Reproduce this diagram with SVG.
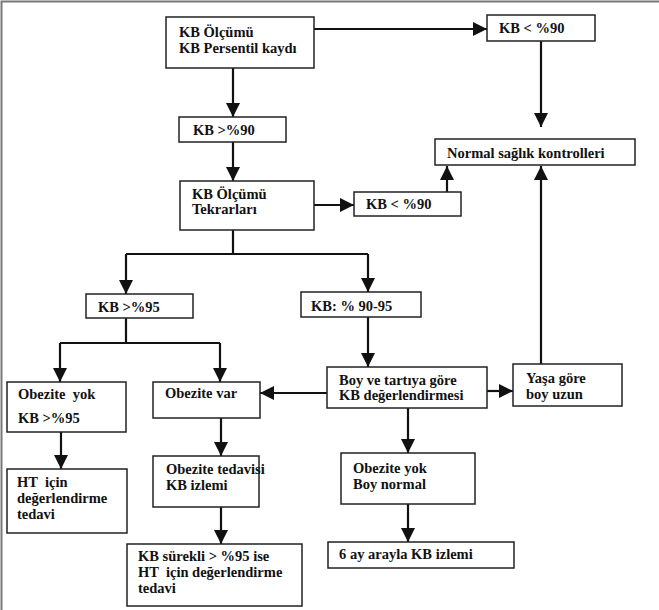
<svg xmlns="http://www.w3.org/2000/svg" width="659" height="610" viewBox="0 0 659 610">
<defs>
<marker id="ah" markerUnits="userSpaceOnUse" markerWidth="15" markerHeight="15" refX="14" refY="7" orient="auto">
<path d="M0,0 L14,7 L0,14 Z" fill="#111"/>
</marker>
<style>
.box{fill:#fff;stroke:#222;stroke-width:1.5}
.t{font-family:"Liberation Serif","Times New Roman",serif;font-weight:bold;font-size:14.5px;fill:#111}
.c{fill:none;stroke:#111;stroke-width:2.2}
.a{fill:none;stroke:#111;stroke-width:2.2;marker-end:url(#ah)}
</style>
</defs>
<rect x="0" y="0" width="659" height="610" fill="#fff"/>
<path d="M1.5,610 L1.5,1.5 L659,1.5" fill="none" stroke="#777" stroke-width="2"/>
<g id="connectors">
<path class="a" d="M314,29 L487,29"/>
<path class="a" d="M541,41 L541,127"/>
<path class="a" d="M233,68 L233,117"/>
<path class="a" d="M233,142 L233,181"/>
<path class="a" d="M314,205 L354,205"/>
<path class="a" d="M447,192 L447,166"/>
<path class="c" d="M233,230 L233,254 M126,254 L368,254"/>
<path class="a" d="M126,254 L126,294"/>
<path class="a" d="M368,254 L368,292"/>
<path class="c" d="M126,318 L126,343 M60,343 L220,343"/>
<path class="a" d="M60,343 L60,382"/>
<path class="a" d="M220,343 L220,382"/>
<path class="a" d="M368,317 L368,367"/>
<path class="a" d="M327,393 L260,393"/>
<path class="a" d="M487,391 L513,391"/>
<path class="a" d="M541,364 L541,166"/>
<path class="a" d="M408,408 L408,453"/>
<path class="a" d="M408,504 L408,542"/>
<path class="a" d="M61,432 L61,469"/>
<path class="a" d="M221,418 L221,456"/>
<path class="a" d="M221,507 L221,544"/>
</g>
<g id="n1"><rect class="box" x="166" y="17" width="148" height="51"/><text class="t" x="179" y="37">KB Ölçümü</text><text class="t" x="179" y="53">KB Persentil kaydı</text></g>
<g id="n2"><rect class="box" x="487" y="15" width="108" height="26"/><text class="t" x="499" y="33">KB &lt; %90</text></g>
<g id="n3"><rect class="box" x="179" y="117" width="107" height="25"/><text class="t" x="193" y="135">KB &gt;%90</text></g>
<g id="n4"><rect class="box" x="435" y="139" width="200" height="26"/><text class="t" x="447" y="158">Normal sağlık kontrolleri</text></g>
<g id="n5"><rect class="box" x="180" y="181" width="134" height="49"/><text class="t" x="192" y="199">KB Ölçümü</text><text class="t" x="192" y="214">Tekrarları</text></g>
<g id="n6"><rect class="box" x="354" y="192" width="107" height="24"/><text class="t" x="366" y="209">KB &lt; %90</text></g>
<g id="n7"><rect class="box" x="86" y="294" width="107" height="24"/><text class="t" x="98" y="312">KB &gt;%95</text></g>
<g id="n8"><rect class="box" x="301" y="292" width="120" height="25"/><text class="t" x="311" y="311">KB: % 90-95</text></g>
<g id="n9"><rect class="box" x="7" y="382" width="119" height="50"/><text class="t" x="18" y="399" xml:space="preserve">Obezite  yok</text><text class="t" x="18" y="423">KB &gt;%95</text></g>
<g id="n10"><rect class="box" x="153" y="382" width="107" height="36"/><text class="t" x="165" y="398">Obezite var</text></g>
<g id="n11"><rect class="box" x="327" y="367" width="160" height="41"/><text class="t" x="339" y="385">Boy ve tartıya göre</text><text class="t" x="339" y="400">KB değerlendirmesi</text></g>
<g id="n12"><rect class="box" x="513" y="364" width="109" height="42"/><text class="t" x="526" y="383">Yaşa göre</text><text class="t" x="526" y="399">boy uzun</text></g>
<g id="n13"><rect class="box" x="7" y="469" width="120" height="64"/><text class="t" x="17" y="487" xml:space="preserve">HT  için</text><text class="t" x="17" y="503">değerlendirme</text><text class="t" x="17" y="519">tedavi</text></g>
<g id="n14"><rect class="box" x="153" y="456" width="106" height="51"/><text class="t" x="166" y="474">Obezite tedavisi</text><text class="t" x="166" y="490">KB izlemi</text></g>
<g id="n15"><rect class="box" x="127" y="544" width="175" height="62"/><text class="t" x="138" y="561">KB sürekli &gt; %95 ise</text><text class="t" x="138" y="577" xml:space="preserve">HT  için değerlendirme</text><text class="t" x="138" y="593">tedavi</text></g>
<g id="n16"><rect class="box" x="341" y="453" width="134" height="51"/><text class="t" x="353" y="473">Obezite yok</text><text class="t" x="353" y="489">Boy normal</text></g>
<g id="n17"><rect class="box" x="328" y="542" width="186" height="26"/><text class="t" x="339" y="559">6 ay arayla KB izlemi</text></g>
</svg>
